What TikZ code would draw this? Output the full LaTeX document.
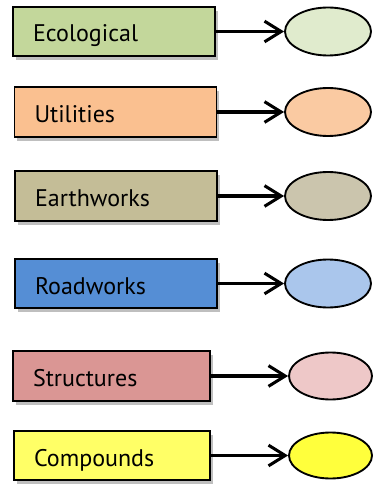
\documentclass[tikz,border=0pt]{standalone}
\usepackage{fontspec}
\setmainfont{PT Sans}
\usepackage{tikz}
\usetikzlibrary{arrows.meta}
\usetikzlibrary{shadows}
\usetikzlibrary{shapes.geometric}
\usepackage{color}
\definecolor{eco_green}{RGB}{195, 215, 155}
\definecolor{light_eco_green}{RGB}{224, 235, 205}
\definecolor{util_orange}{RGB}{250, 192, 144}
\definecolor{light_util_orange}{RGB}{250, 202, 162}
\definecolor{earth_khaki}{RGB}{196, 189, 151}
\definecolor{light_earth_khaki}{RGB}{203, 197, 173}
\definecolor{road_blue}{RGB}{85, 142, 213}
\definecolor{light_road_blue}{RGB}{170, 198, 236}
\definecolor{struct_red}{RGB}{218, 150, 148}
\definecolor{light_struct_red}{RGB}{238, 200, 200}
\definecolor{comp_yellow}{RGB}{255, 255, 102}
\definecolor{light_comp_yellow}{RGB}{255, 255, 60}

\tikzset{
    catbox/.style={shape=rectangle, draw=black, line width=1.6pt, minimum height=1.48cm,
        inner xsep=0.6cm, text width=4.86cm, align=left, font=\fontsize{20.5}{24}\selectfont,
        text height=0.63cm, text depth=0pt,
        drop shadow={shadow xshift=2.5pt, shadow yshift=-3.5pt, opacity=0.25, fill=black}},
    outcome/.style={shape=ellipse, draw=black, line width=1.6pt, minimum width=2.58cm, minimum height=1.44cm, inner sep=0pt},
}

\begin{document}
\begin{tikzpicture}
    \useasboundingbox (0,0) rectangle (11.46,-14.85);

        \node[catbox, fill=eco_green] (Eco) at (3.42,-0.945) {Ecological};
        \node[catbox, fill=util_orange] (Util) at (3.465,-3.36) {Utilities};
        \node[catbox, fill=earth_khaki] (Earth) at (3.48,-5.88) {Earthworks};
        \node[catbox, fill=road_blue] (Road) at (3.48,-8.505) {Roadworks};
        \node[catbox, fill=struct_red, text width=4.71cm] (Struct) at (3.345,-11.28) {Structures};
        \node[catbox, fill=comp_yellow, text width=4.68cm] (Comp) at (3.36,-13.665) {Compounds};

        \node[outcome, fill=light_eco_green] (EcoOut) at (9.84,-0.945) {};
        \node[outcome, fill=light_util_orange] (UtilOut) at (9.84,-3.36) {};
        \node[outcome, fill=light_earth_khaki] (EarthOut) at (9.84,-5.88) {};
        \node[outcome, fill=light_road_blue] (RoadOut) at (9.84,-8.505) {};
        \node[outcome, fill=light_struct_red, minimum width=2.49cm, minimum height=1.41cm] (StructOut) at (9.915,-11.28) {};
        \node[outcome, fill=light_comp_yellow, minimum width=2.49cm, minimum height=1.38cm] (CompOut) at (9.915,-13.665) {};

    \begin{scope}[every edge/.style={draw=black, line width=2.6pt}]
        \draw [-{Straight Barb[length=0.5cm, width=0.62cm]}](Eco) edge (EcoOut);
        \draw [-{Straight Barb[length=0.5cm, width=0.62cm]}](Util) edge (UtilOut);
        \draw [-{Straight Barb[length=0.5cm, width=0.62cm]}](Earth) edge (EarthOut);
        \draw [-{Straight Barb[length=0.5cm, width=0.62cm]}](Road) edge (RoadOut);
        \draw [-{Straight Barb[length=0.5cm, width=0.62cm]}](Struct) edge (StructOut);
        \draw [-{Straight Barb[length=0.5cm, width=0.62cm]}](Comp) edge (CompOut);
    \end{scope}

\end{tikzpicture}
\end{document}
